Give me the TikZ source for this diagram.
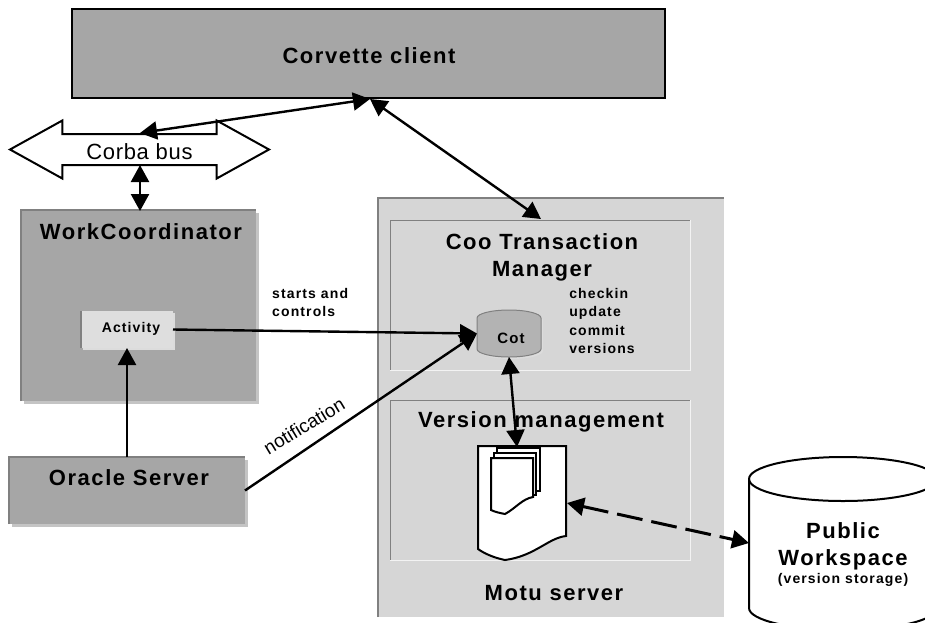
\documentclass[tikz,border=0pt]{standalone}
\usepackage{fontspec}
\setmainfont{Liberation Sans}
\newfontfamily\spaced[LetterSpace=7]{Liberation Sans}
\newfontfamily\spacedsmall[LetterSpace=8]{Liberation Sans}
\newfontfamily\spacedbus[LetterSpace=3]{Liberation Sans}
\usetikzlibrary{arrows.meta,shapes.arrows,shadows}

\definecolor{darkbox}{HTML}{A6A6A6}
\definecolor{lightbox}{HTML}{D6D6D6}
\definecolor{boxedge}{HTML}{808080}
\definecolor{boxshadow}{HTML}{C4C4C4}

\tikzset{
    box/.style={rectangle, anchor=north west, inner sep=0pt, outer sep=0pt},
    greybox/.style={box, fill=darkbox, drop shadow={shadow xshift=3pt, shadow yshift=-3pt, opacity=1, fill=boxshadow}},
    edge/.style={draw=boxedge, line width=1.2pt},
    title/.style={font=\spaced\bfseries\fontsize{22}{24}\selectfont, align=center, inner sep=0pt},
    small/.style={font=\spacedsmall\bfseries\fontsize{14}{18.3}\selectfont, align=left, inner sep=0pt},
    link/.style={line width=2.4pt, black, {Triangle[length=17pt,width=18pt]}-{Triangle[length=17pt,width=18pt]}},
    oneway/.style={line width=2.4pt, black, -{Triangle[length=17pt,width=18pt]}},
    sheet/.style={draw=black, line width=2pt, fill=white, line join=miter}
}

\begin{document}
\begin{tikzpicture}[x=1pt,y=-1pt]
    \useasboundingbox (0,0) rectangle (925,622);

    % client and bus
    \node[box, fill=darkbox, draw=black, line width=2pt, minimum width=593pt, minimum height=89pt] (client) at (72,9) {};
    \node[title] (clientname) at (369,56) {Corvette client};
    \node[double arrow, draw=black, line width=2pt, fill=white, inner sep=0pt, inner ysep=4.5pt,
        minimum height=259pt, minimum width=56pt, double arrow head extend=13.5pt, double arrow tip angle=58,
        text height=20pt, text depth=0pt, font=\spacedbus\fontsize{22}{24}\selectfont] (bus) at (139.5,149.5) {Corba bus};

    % left column
    \node[greybox, minimum width=235pt, minimum height=191pt] (wc) at (21,210) {};
    \draw[edge] (wc.south west) -- (wc.north west) -- (wc.north east);
    \node[title] (wcname) at (141,232) {WorkCoordinator};
    \node[box, fill=lightbox!80!white, drop shadow={shadow xshift=2pt, shadow yshift=-2pt, opacity=1, fill=boxshadow!60!white}, minimum width=92pt, minimum height=37pt] (activity) at (81,311) {};
    \draw[edge, line width=2pt] (activity.south west) -- (activity.north west);
    \node[font=\spacedsmall\bfseries\fontsize{14}{16}\selectfont, inner sep=0pt] (activityname) at (131,329) {Activity};
    \node[greybox, minimum width=236pt, minimum height=67pt] (oracle) at (9,457) {};
    \draw[edge] (oracle.south west) -- (oracle.north west) -- (oracle.north east);
    \node[title] (oraclename) at (129,478) {Oracle Server};

    % motu server
    \node[box, fill=lightbox, minimum width=346pt, minimum height=419pt] (motu) at (378,198) {};
    \draw[edge] (motu.south west) -- (motu.north west) -- (motu.north east);
    \node[box, minimum width=300pt, minimum height=150pt] (coo) at (390,220) {};
    \draw[edge, line width=1pt] (coo.south west) -- (coo.north west) -- (coo.north east);
    \draw[white!70!lightbox, line width=1pt] (coo.south west) -- (coo.south east) -- (coo.north east);
    \node[title] (cooname) at (542,257) {Coo Transaction\\[3pt]Manager};
    \node[box, minimum width=300pt, minimum height=160pt] (version) at (390,400) {};
    \draw[edge, line width=1pt] (version.south west) -- (version.north west) -- (version.north east);
    \draw[white!70!lightbox, line width=1pt] (version.south west) -- (version.south east) -- (version.north east);
    \node[title] (versionname) at (541,422) {Version management};
    \node[title] (motuname) at (554,593) {Motu server};

    % cot drum
    \node[rectangle, inner sep=0pt, outer sep=0pt, minimum width=64pt, minimum height=47pt] (cot) at (509,333.5) {};
    \fill[boxshadow!60!white] (479,320) arc[start angle=180, end angle=0, x radius=32pt, y radius=8pt] -- (543,351)
        arc[start angle=0, end angle=-180, x radius=32pt, y radius=8pt] -- cycle;
    \path[draw=boxedge, line width=1pt, fill=darkbox!85!white] (477,318) arc[start angle=180, end angle=0, x radius=32pt, y radius=8pt] -- (541,349)
        arc[start angle=0, end angle=-180, x radius=32pt, y radius=8pt] -- cycle;
    \node[font=\spacedsmall\bfseries\fontsize{15}{16}\selectfont, inner sep=0pt] (cotname) at (511,338) {Cot};
    \node[small] (ops) at (602,321) {checkin\\update\\commit\\versions};
    \node[small, anchor=west] (starts) at (272,302.5) {starts and\\controls};

    % document stack
    \draw[sheet] (478,446) -- (566,446) -- (566,536) .. controls (548,538) and (535,556) .. (505,560) .. controls (495,558) and (485,554) .. (478,549) -- cycle;
    \draw[sheet, line width=1.5pt] (497,448) -- (540,448) -- (540,491) -- (497,491) -- cycle;
    \draw[sheet, line width=1.5pt] (494,453) -- (536,453) -- (536,495) -- (494,495) -- cycle;
    \draw[sheet] (491,458) -- (533,458) -- (533,497) .. controls (522,499) and (516,508) .. (505,514) .. controls (500,513) and (495,512) .. (491,510) -- cycle;
    \coordinate (doctop) at (517,447);
    \coordinate (docright) at (567,503);

    % public workspace
    \draw[sheet] (749,479) arc[start angle=180, end angle=0, x radius=94pt, y radius=22pt] -- (937,608)
        arc[start angle=0, end angle=-180, x radius=94pt, y radius=22pt] -- cycle;
    \draw[sheet, fill=none] (749,479) arc[start angle=180, end angle=360, x radius=94pt, y radius=22pt];
    \coordinate (publicleft) at (749,543);
    \node[title] (publicname) at (843,546) {Public\\[3pt]Workspace};
    \node[font=\spacedsmall\bfseries\fontsize{14}{15}\selectfont, inner sep=0pt] (publicnote) at (843,580) {(version storage)};

    % connectors
    \coordinate (clienthub) at (370,99);
    \coordinate (bustop) at (140,133);
    \coordinate (busbottom) at (140,165);
    \coordinate (cootop) at (541,219);
    \coordinate (wctop) at (140,211);
    \draw[link] (clienthub) -- (bustop);
    \draw[link] (clienthub) -- (cootop);
    \draw[link] (busbottom) -- (wctop);
    \draw[oneway] (oracle.north -| 127,0) -- (activity.south -| 127,0);
    \draw[oneway] (activity.east) -- (cot.west);
    \draw[oneway] (oracle.east) -- (cot.west);
    \draw[link] (cot.south) -- (doctop);
    \draw[link, line width=3pt, dash pattern=on 26pt off 9pt] (docright) -- (publicleft);
    \node[font=\fontsize{19}{21}\selectfont, rotate=31, inner sep=0pt] (notification) at (304,426) {notification};
\end{tikzpicture}
\end{document}
